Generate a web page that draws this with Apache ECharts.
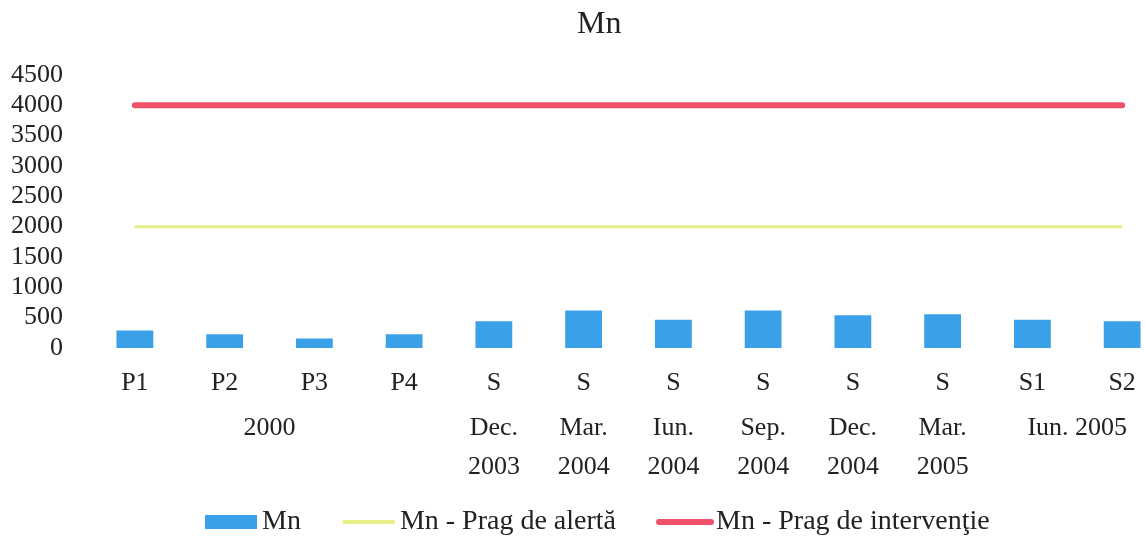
<!DOCTYPE html>
<html>
<head>
<meta charset="utf-8">
<title>Mn</title>
<script src="https://cdn.jsdelivr.net/npm/echarts@6/dist/echarts.min.js"></script>
<style>
  html, body { margin: 0; padding: 0; background: #fff; }
  #chart { width: 1145px; height: 543px; }
</style>
</head>
<body>
<div id="chart"></div>
<script>
// date pe categorii
const categories = ["P1", "P2", "P3", "P4", "S", "S", "S", "S", "S", "S", "S1", "S2"];
const mnValues = [290, 225, 155, 225, 440, 620, 465, 620, 540, 555, 465, 440];
const pragAlerta = [2000, 2000, 2000, 2000, 2000, 2000, 2000, 2000, 2000, 2000, 2000, 2000];
const pragInterventie = [4000, 4000, 4000, 4000, 4000, 4000, 4000, 4000, 4000, 4000, 4000, 4000];
// al doilea rand de etichete: nume grup + cate categorii acopera
const groupNames = ["2000", "Dec.\n2003", "Mar.\n2004", "Iun.\n2004", "Sep.\n2004", "Dec.\n2004", "Mar.\n2005", "Iun. 2005"];
const groupSpans = [4, 1, 1, 1, 1, 1, 1, 2];
const yTicks = [0, 500, 1000, 1500, 2000, 2500, 3000, 3500, 4000, 4500];

const FONT = "Liberation Serif";

// pozitia (in unitati de categorie) a centrului fiecarui grup
let groupAt = {};
let pos = 0;
groupSpans.forEach((span, i) => {
  groupAt[(pos + span / 2).toFixed(1)] = groupNames[i];
  pos += span;
});

let chartDom = document.getElementById("chart");
let myChart = echarts.init(chartDom);

let option = {
  animation: false,
  title: {
    text: "Mn",
    left: 572,
    top: 4,
    textStyle: { fontFamily: FONT, fontSize: 32, fontWeight: "normal", color: "#222" },
  },
  legend: {
    bottom: 2,
    left: 200,
    itemWidth: 52,
    itemHeight: 14,
    itemGap: 40,
    textStyle: { fontFamily: FONT, fontSize: 28, color: "#222" },
    data: [
      { name: "Mn", icon: "rect" },
      { name: "Mn - Prag de alertă", itemStyle: { opacity: 0 }, lineStyle: { width: 4 } },
      { name: "Mn - Prag de intervenţie", itemStyle: { opacity: 0 }, lineStyle: { width: 6 } },
    ],
  },
  grid: {
    left: 90,
    top: 75,
    width: 1077,
    height: 273,
    outerBoundsMode: "none",
  },
  xAxis: [
    {
      type: "category",
      data: categories,
      position: "bottom",
      axisLine: { show: false },
      axisTick: { show: false },
      axisLabel: {
        margin: 22,
        interval: 0,
        fontFamily: FONT,
        fontSize: 26,
        color: "#222",
      },
    },
    {
      type: "value",
      min: 0,
      max: categories.length,
      interval: 0.5,
      position: "bottom",
      axisLine: { show: false },
      axisTick: { show: false },
      splitLine: { show: false },
      axisLabel: {
        margin: 61,
        fontFamily: FONT,
        fontSize: 26,
        lineHeight: 39,
        color: "#222",
        showMinLabel: true,
        showMaxLabel: true,
        formatter: (v) => groupAt[v.toFixed(1)] || "",
      },
    },
  ],
  yAxis: {
    type: "value",
    min: yTicks[0],
    max: yTicks[yTicks.length - 1],
    interval: 500,
    axisLine: { show: false },
    axisTick: { show: false },
    splitLine: { show: false },
    axisLabel: {
      margin: 27,
      fontFamily: FONT,
      fontSize: 26,
      color: "#222",
      formatter: (v) => String(v),
    },
  },
  series: [
    {
      name: "Mn",
      type: "bar",
      xAxisIndex: 0,
      barWidth: "41%",
      itemStyle: { color: "#3aa0e8" },
      data: mnValues,
    },
    {
      name: "Mn - Prag de alertă",
      type: "line",
      xAxisIndex: 0,
      symbol: "none",
      lineStyle: { color: "#e6ee88", width: 3 },
      itemStyle: { color: "#e6ee88" },
      data: pragAlerta,
    },
    {
      name: "Mn - Prag de intervenţie",
      type: "line",
      xAxisIndex: 0,
      symbol: "none",
      lineStyle: { color: "#f0506a", width: 6, cap: "round" },
      itemStyle: { color: "#f0506a" },
      data: pragInterventie,
    },
  ],
};

option && myChart.setOption(option);
</script>
</body>
</html>
